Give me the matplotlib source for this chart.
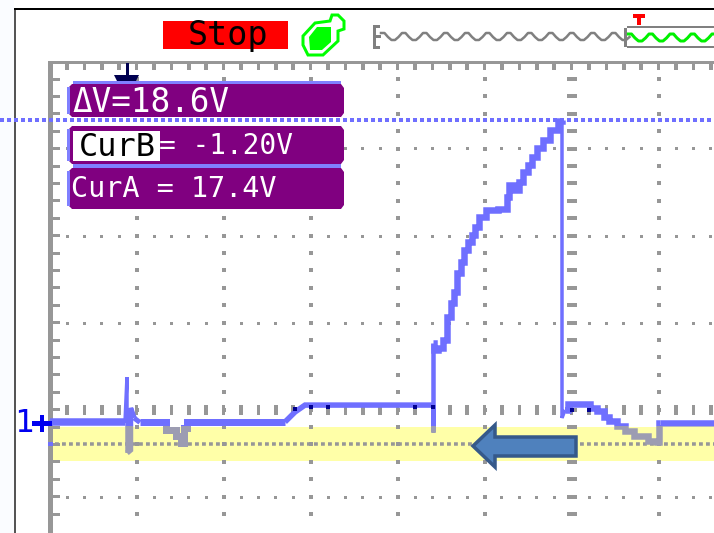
import numpy as np
import matplotlib
matplotlib.use("Agg")
import matplotlib.pyplot as plt
from matplotlib.patches import Polygon, Rectangle
from matplotlib.transforms import Affine2D

# trace: time in divisions from the left edge, volts at 5 V/div
trace_time = [
    0, 0.862, 0.885, 0.885, 0.925, 0.925, 0.966, 1.034, 1.264, 1.402,
    1.494, 1.517, 1.563, 1.586, 2.701, 2.816, 2.931, 4.402, 4.402, 4.402,
    4.437, 4.483, 4.559, 4.578, 4.629, 4.655, 4.693, 4.744, 4.782, 4.828,
    4.866, 4.911, 4.962, 5.057, 5.249, 5.253, 5.295, 5.364, 5.410, 5.471,
    5.517, 5.555, 5.632, 5.709, 5.785, 5.882, 5.885, 5.885, 5.920, 5.989,
    6.184, 6.230, 6.345, 6.391, 6.460, 6.575, 6.644, 6.782, 6.954, 7.000,
    7.006, 7.632,
]
trace_volts = [
    0.03, 0.03, 2.64, -1.72, -1.55, 0.86, 0.29, 0.03, 0.03, -0.40,
    -0.75, -1.15, -0.29, 0.06, 0.06, 0.63, 1.03, 1.03, -0.52, 4.60,
    4.20, 4.31, 4.77, 6.11, 6.90, 7.55, 8.62, 9.27, 9.94, 10.42,
    10.80, 11.28, 11.86, 12.24, 12.28, 13.01, 13.68, 13.39, 13.87, 14.44,
    14.83, 15.30, 15.79, 16.26, 16.84, 17.36, 17.40, 0.29, 0.75, 1.09,
    1.09, 0.86, 0.69, 0.34, 0.11, -0.17, -0.46, -0.75, -1.03, -1.09,
    0, 0,
]
# index ranges of the trace, thickness in pixels, drawn as steps or not
trace_parts = [(0, 1, 7.5, False), (1, 3, 3.5, False), (3, 6, 5.5, False),
               (6, 7, 5, False), (7, 14, 7, True), (14, 17, 5.5, False),
               (17, 19, 4.5, False), (19, 46, 6.5, True), (46, 48, 3.5, False),
               (48, 60, 6.5, True), (60, 62, 6.5, False)]
# places where the trace sits on a grid mark and goes dark
dark_time = [2.82, 3.0, 3.2, 4.2, 4.4, 6.0, 6.2]
dark_volts = [0.8, 0.9, 0.9, 0.9, 0.9, 0.75, 0.75]

cursor_a = 17.4
cursor_b = -1.20
delta_label = "ΔV=18.6V"
cur_b_name = "CurB"
cur_b_label = "= -1.20V"
cur_a_label = "CurA = 17.4V"
status_label = "Stop"
channel_label = "1"

W, H = 714, 533
PX = 0.72  # one pixel in points at dpi 100
GREY = "#979797"
TRACE = "#6F6FFF"
TRACE_LOW = "#9C9CB2"
MONO = "DejaVu Sans Mono"

fig = plt.figure(figsize=(W / 100, H / 100), dpi=100, facecolor="white")
ax = fig.add_axes([0, 0, 1, 1])
ax.set_xlim(-50 / 87, (W - 50) / 87)
ax.set_ylim((423 - H) / 17.4, 423 / 17.4)
ax.axis("off")

# everything that is not signal is placed in picture pixels
px = Affine2D().scale(1, -1).translate(0, H)


def box(x0, y0, x1, y1, color, z=2):
    ax.add_patch(Rectangle((x0, y0), x1 - x0, y1 - y0, transform=px,
                           fc=color, ec="none", zorder=z, clip_on=False))


def marks(xs, ys, w, h, color=GREY, z=3):
    for x in np.atleast_1d(xs):
        for y in np.atleast_1d(ys):
            box(x - w / 2, y - h / 2, x + w / 2, y + h / 2, color, z)


def poly(points, fc, ec="none", lw=0, z=6):
    ax.add_patch(Polygon(points, closed=True, transform=px, fc=fc, ec=ec,
                         lw=lw * PX, zorder=z, clip_on=False, joinstyle="miter"))


# page around the scope picture
box(0, 0, 14, H, "#FAFCFF", 0)
box(13.5, 8.5, 15.5, H, "#555555", 1)
box(13.5, 8, W, 10, "#000000", 1)

# yellow band
box(52, 427, W, 461, "#FFFFA8", 1)

# graticule
minor_x = 67 + 17.4 * np.arange(38)
minor_y = 79 + 17.4 * np.arange(26)
major_x = [137, 224, 311, 398, 485, 659]
major_y = [148, 236, 323, 497]
box(48, 60.5, 53, H, GREY, 2)
box(48, 60.5, W, 63.5, GREY, 2)
marks(minor_x, 66.5, 3.5, 7)
marks(56, minor_y, 7, 3)
marks(major_x, minor_y, 4, 4)
marks(572, minor_y, 10.5, 4)
marks(minor_x, major_y, 3, 3)
marks(minor_x, 410, 3.5, 10)

# cursors
ax.plot([48, W], [444, 444], transform=px, color="#979797", lw=3.5 * PX,
        ls=(0, (1.1, 0.9)), dash_capstyle="butt", zorder=3)
box(48, 442, 53, 446, TRACE, 4)
ax.axhline(cursor_a, color=TRACE, lw=4 * PX, ls=(0, (1, 0.75)),
           dash_capstyle="butt", zorder=4)

# signal, blue above the band and grey inside it
upper = Rectangle((-2, -0.17), 20, 40, transform=ax.transData)
lower = Rectangle((-2, -40.17), 20, 40, transform=ax.transData)
for start, stop, width, stepped in trace_parts:
    for color, clip in ((TRACE, upper), (TRACE_LOW, lower)):
        line, = ax.plot(trace_time[start:stop + 1], trace_volts[start:stop + 1],
                        color=color, lw=width * PX, zorder=5,
                        drawstyle="steps-mid" if stepped else "default",
                        solid_joinstyle="miter", solid_capstyle="butt")
        line.set_clip_path(clip)
ax.plot(dark_time, dark_volts, ls="none", marker="s", ms=5 * PX, mew=0,
        color="#000090", zorder=5.5)

# channel marker
ax.text(24, 424, channel_label, transform=px, color="#0000F0", family=MONO,
        fontsize=23, ha="center", va="center", zorder=6)
box(32, 421, 52, 426, "#0000F0", 6)
box(39.5, 415, 44, 432, "#0000F0", 6)

# arrow laid over the picture
arrow = [(473, 446), (495, 425), (495, 437), (576, 437), (576, 456), (495, 456),
         (495, 467)]
poly(arrow, "#4F81BD", "#35598A", 3.5, 7)

# trigger position marker
box(125.5, 63, 128.5, 76, "#000050", 4)
poly([(114, 75), (139, 75), (136, 81), (117, 81)], "#000050", z=4)

# readout panels
for top, bottom in ((84, 117), (126, 164), (168, 209)):
    poly([(68, top + 4), (72, top), (341, top), (344, top + 4), (344, bottom - 4),
          (341, bottom), (72, bottom), (68, bottom - 4)], "#800080", z=8)
    box(66.5, top + 3, 69.5, bottom - 3, "#8080FF", 9)
box(73, 81, 341, 84, "#8080FF", 9)
box(73, 164, 341, 168, "#8080FF", 9)
box(73, 131, 160, 161, "white", 9)

text_style = dict(transform=px, family=MONO, ha="left", va="center", zorder=10)
ax.text(72, 102, delta_label, color="white", fontsize=23.5, **text_style)
ax.text(79, 147, cur_b_name, color="black", fontsize=23, **text_style)
ax.text(159, 146, cur_b_label, color="white", fontsize=20, **text_style)
ax.text(71, 189, cur_a_label, color="white", fontsize=20.5, **text_style)

# run state
box(163, 21, 288, 49, "#FF0000", 2)
ax.text(228, 36, status_label, transform=px, family=MONO, color="black",
        fontsize=24, ha="center", va="center", zorder=3)

# trigger icon
poly([(308, 55), (303, 45), (303, 36), (315, 23), (330, 21), (332, 15), (338, 15),
      (344, 21), (344, 29), (338, 31), (338, 41), (323, 55)],
     "white", "#00FF00", 3, 3)
poly([(309, 37), (317, 27), (331, 27), (331, 42), (322, 50), (310, 50)],
     "#00FF00", z=4)

# record overview
wave_levels = [33, 33, 37, 40, 40, 37]
grey_cycles = 12
green_cycles = 5
grey_wave = wave_levels * grey_cycles
green_wave = [y + 1 for y in wave_levels] * green_cycles
ax.plot(381 + 3.5 * np.arange(len(grey_wave)), grey_wave, transform=px,
        color="#808080", lw=2.5 * PX, zorder=3, clip_on=False)
ax.plot(628 + 3.5 * np.arange(len(green_wave)), green_wave, transform=px,
        color="#00F000", lw=3 * PX, zorder=3)
box(373, 25, 376, 49, "#808080", 3)
box(373, 25, 380, 28, "#808080", 3)
box(373, 46, 380, 49, "#808080", 3)
box(376, 35, 381, 38, "#808080", 3)
box(627, 25.5, W, 28, "#808080", 3)
box(627, 45.5, W, 48, "#808080", 3)
box(624, 28, 626.5, 47, "#808080", 3)
box(633, 14, 645, 18, "#FF0000", 3)
box(637, 18, 641, 25, "#FF0000", 3)

fig.savefig("out.png", dpi=100)
